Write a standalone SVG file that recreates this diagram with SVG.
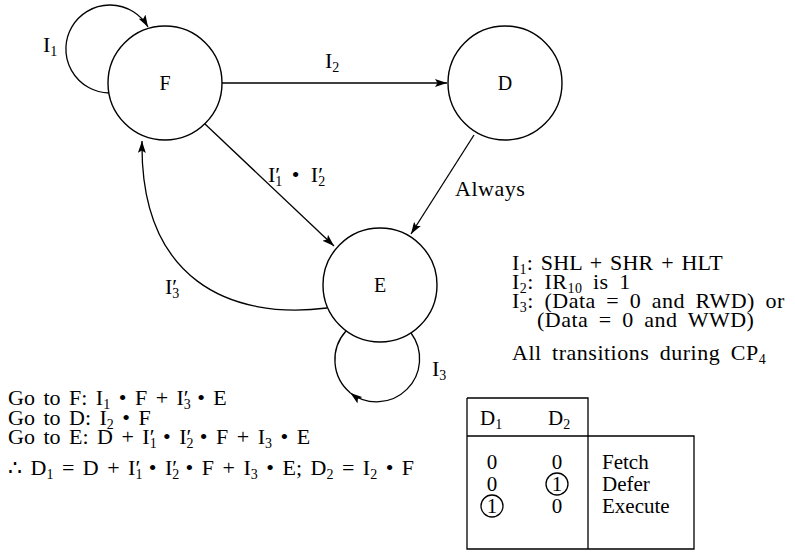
<svg xmlns="http://www.w3.org/2000/svg" width="795" height="553" viewBox="0 0 795 553">
<defs>
<style>
.node{fill:none;stroke:#000;stroke-width:1.4}
.edge{fill:none;stroke:#000;stroke-width:1.3}
.tbl{fill:none;stroke:#000;stroke-width:1.3}
text{font-family:"Liberation Serif","Times New Roman",serif;font-size:20px;fill:#000}
.sub{font-size:14px}
.c{text-anchor:middle}
.lbl{font-size:22px}
.leg{font-size:22px;word-spacing:4.5px;letter-spacing:0.5px}
.eq{font-size:22px;word-spacing:3px}
.tb{font-size:21px}
</style>
<marker id="arr" viewBox="0 0 12 8" refX="12" refY="4" markerWidth="12" markerHeight="8" markerUnits="userSpaceOnUse" orient="auto">
<path d="M0,0 L12,4 L0,8 L2.5,4 z" fill="#000"/>
</marker>
</defs>
<rect width="795" height="553" fill="#fff"/>

<g id="connectors">
<path class="edge" d="M109,93 A44,44 0 1 1 148,27" marker-end="url(#arr)"/>
<path class="edge" d="M222,83 L447,83" marker-end="url(#arr)"/>
<path class="edge" d="M205,124 L334,246" marker-end="url(#arr)"/>
<path class="edge" d="M474,135 L411,234" marker-end="url(#arr)"/>
<path class="edge" d="M327,308 C230,320 140,280 142,141" marker-end="url(#arr)"/>
<path class="edge" d="M411,333 A43,43 0 0 1 350.4,392.9" marker-end="url(#arr)"/>
<path class="edge" d="M350.4,392.9 A43,43 0 0 1 346,331"/>
<text class="lbl" x="43" y="52">I<tspan class="sub" dy="4">1</tspan></text>
<text class="lbl" x="325" y="68">I<tspan class="sub" dy="4">2</tspan></text>
<text class="lbl" x="268" y="182" word-spacing="6">I<tspan class="sub" dy="4">1</tspan><tspan dx="-7" dy="-4">′</tspan> • I<tspan class="sub" dy="4">2</tspan><tspan dx="-7" dy="-4">′</tspan></text>
<text class="lbl" x="455" y="196" letter-spacing="0.5">Always</text>
<text class="lbl" x="165" y="294">I<tspan class="sub" dy="4">3</tspan><tspan dx="-7" dy="-4">′</tspan></text>
<text class="lbl" x="432" y="376">I<tspan class="sub" dy="4">3</tspan></text>
</g>

<g id="node-F">
<circle class="node" cx="165" cy="83" r="57"/>
<text class="c" x="165" y="90">F</text>
</g>
<g id="node-D">
<circle class="node" cx="505" cy="83" r="57"/>
<text class="c" x="505" y="90">D</text>
</g>
<g id="node-E">
<circle class="node" cx="380" cy="285" r="57"/>
<text class="c" x="380" y="292">E</text>
</g>

<g id="legend">
<text class="leg" x="512" y="270" style="word-spacing:2px;letter-spacing:0.2px">I<tspan class="sub" dy="4">1</tspan><tspan dy="-4">: SHL + SHR + HLT</tspan></text>
<text class="leg" x="512" y="289">I<tspan class="sub" dy="4">2</tspan><tspan dy="-4">: IR</tspan><tspan class="sub" dy="4">10</tspan><tspan dy="-4"> is 1</tspan></text>
<text class="leg" x="512" y="308">I<tspan class="sub" dy="4">3</tspan><tspan dy="-4">: (Data = 0 and RWD) or</tspan></text>
<text class="leg" x="537" y="327">(Data = 0 and WWD)</text>
<text class="leg" x="512" y="360">All transitions during CP<tspan class="sub" dy="4">4</tspan></text>
</g>

<g id="equations">
<text class="eq" x="8" y="405">Go to F: I<tspan class="sub" dy="4">1</tspan><tspan dy="-4"> • F + I</tspan><tspan class="sub" dy="4">3</tspan><tspan dx="-7" dy="-4">′</tspan> • E</text>
<text class="eq" x="8" y="425">Go to D: I<tspan class="sub" dy="4">2</tspan><tspan dy="-4"> • F</tspan></text>
<text class="eq" x="8" y="444">Go to E: D + I<tspan class="sub" dy="4">1</tspan><tspan dx="-7" dy="-4">′</tspan> • I<tspan class="sub" dy="4">2</tspan><tspan dx="-7" dy="-4">′</tspan> • F + I<tspan class="sub" dy="4">3</tspan><tspan dy="-4"> • E</tspan></text>
<text class="eq" x="8" y="475">∴ D<tspan class="sub" dy="4">1</tspan><tspan dy="-4"> = D + I</tspan><tspan class="sub" dy="4">1</tspan><tspan dx="-7" dy="-4">′</tspan> • I<tspan class="sub" dy="4">2</tspan><tspan dx="-7" dy="-4">′</tspan> • F + I<tspan class="sub" dy="4">3</tspan><tspan dy="-4"> • E; D</tspan><tspan class="sub" dy="4">2</tspan><tspan dy="-4"> =  I</tspan><tspan class="sub" dy="4">2</tspan><tspan dy="-4"> • F</tspan></text>
</g>

<g id="table">
<path class="tbl" d="M467,398 L588,398 L588,549 M467,398 L467,549 L694,549 L694,436 L467,436"/>
<text class="tb" x="480" y="425">D<tspan class="sub" dy="4">1</tspan></text>
<text class="tb" x="548" y="425">D<tspan class="sub" dy="4">2</tspan></text>
<text class="tb c" x="492" y="469">0</text>
<text class="tb c" x="557" y="469">0</text>
<text class="tb" x="602" y="469">Fetch</text>
<text class="tb c" x="492" y="491">0</text>
<text class="tb c" x="557" y="491">1</text>
<circle class="tbl" cx="557" cy="484" r="11"/>
<text class="tb" x="602" y="491">Defer</text>
<text class="tb c" x="492" y="513">1</text>
<circle class="tbl" cx="492" cy="506" r="11"/>
<text class="tb c" x="557" y="513">0</text>
<text class="tb" x="602" y="513">Execute</text>
</g>
</svg>
